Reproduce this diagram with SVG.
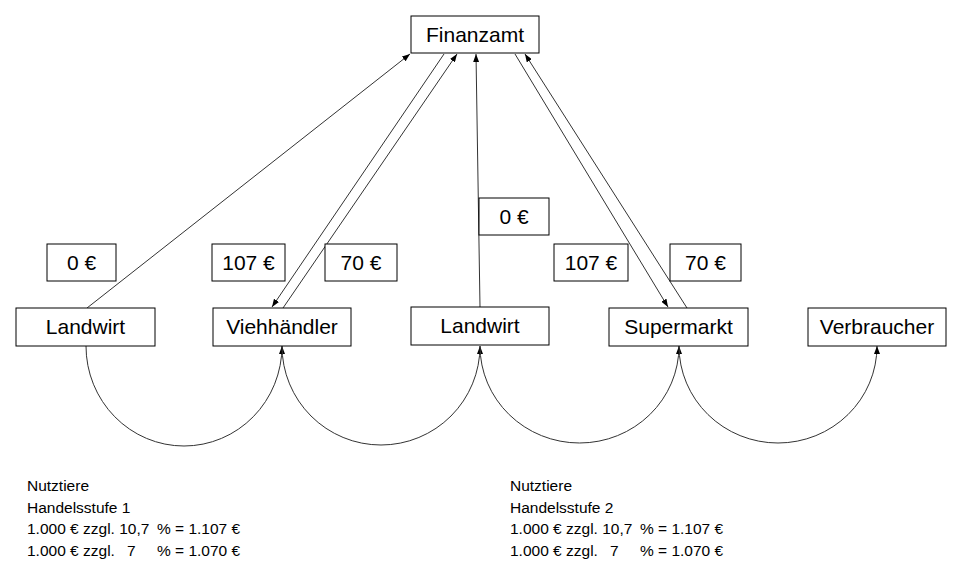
<svg xmlns="http://www.w3.org/2000/svg" width="957" height="575" viewBox="0 0 957 575">
  <style>
    .box { fill: #ffffff; stroke: #000000; stroke-width: 1; }
    .lbl { font-family: "Liberation Sans", Arial, sans-serif; font-size: 21px; fill: #000000; text-anchor: middle; }
    .note { font-family: "Liberation Sans", Arial, sans-serif; font-size: 15.5px; fill: #000000; }
    .con { fill: none; stroke: #333333; stroke-width: 1; }
  </style>
  <defs>
    <marker id="head" markerWidth="8" markerHeight="6" refX="8" refY="3" orient="auto" markerUnits="userSpaceOnUse">
      <path d="M0,0 L8,3 L0,6 Z" fill="#000000"/>
    </marker>
  </defs>

  <rect width="957" height="575" fill="#ffffff"/>

  <!-- connectors -->
  <g id="connectors">
    <!-- tax flows to and from the tax office -->
    <line class="con" x1="87" y1="308" x2="410" y2="54" marker-end="url(#head)"/>
    <line class="con" x1="444" y1="54" x2="272" y2="307" marker-end="url(#head)"/>
    <line class="con" x1="283" y1="308" x2="457" y2="54" marker-end="url(#head)"/>
    <line class="con" x1="480" y1="307" x2="476" y2="54" marker-end="url(#head)"/>
    <line class="con" x1="515" y1="54" x2="668" y2="307" marker-end="url(#head)"/>
    <line class="con" x1="687" y1="308" x2="525" y2="54" marker-end="url(#head)"/>
    <!-- goods chain along the bottom -->
    <path class="con" d="M86,346 A98,100 0 0 0 282,346" marker-end="url(#head)"/>
    <path class="con" d="M282,346 A99,99 0 0 0 480,346" marker-end="url(#head)"/>
    <path class="con" d="M480,346 A99.5,97 0 0 0 679,346" marker-end="url(#head)"/>
    <path class="con" d="M679,346 A99,97 0 0 0 877,346" marker-end="url(#head)"/>
  </g>

  <!-- nodes -->
  <g id="finanzamt">
    <rect class="box" x="411" y="16" width="128" height="37"/>
    <text class="lbl" x="475" y="42">Finanzamt</text>
  </g>
  <g id="landwirt1">
    <rect class="box" x="16" y="308" width="139" height="38"/>
    <text class="lbl" x="85.5" y="334">Landwirt</text>
  </g>
  <g id="viehhaendler">
    <rect class="box" x="213" y="308" width="138" height="38"/>
    <text class="lbl" x="282" y="334">Viehhändler</text>
  </g>
  <g id="landwirt2">
    <rect class="box" x="411" y="307" width="138" height="38"/>
    <text class="lbl" x="480" y="333">Landwirt</text>
  </g>
  <g id="supermarkt">
    <rect class="box" x="609" y="308" width="139" height="38"/>
    <text class="lbl" x="678.5" y="334">Supermarkt</text>
  </g>
  <g id="verbraucher">
    <rect class="box" x="808" y="308" width="138" height="38"/>
    <text class="lbl" x="877" y="334">Verbraucher</text>
  </g>

  <!-- amount labels -->
  <g id="betrag-landwirt1">
    <rect class="box" x="47" y="244" width="69" height="37"/>
    <text class="lbl" x="81.5" y="270">0 €</text>
  </g>
  <g id="betrag-vieh-107">
    <rect class="box" x="212" y="244" width="73" height="37"/>
    <text class="lbl" x="248.5" y="270">107 €</text>
  </g>
  <g id="betrag-vieh-70">
    <rect class="box" x="325" y="244" width="72" height="37"/>
    <text class="lbl" x="361" y="270">70 €</text>
  </g>
  <g id="betrag-landwirt2">
    <rect class="box" x="479" y="198" width="70" height="37"/>
    <text class="lbl" x="514" y="224">0 €</text>
  </g>
  <g id="betrag-super-107">
    <rect class="box" x="554" y="244" width="74" height="37"/>
    <text class="lbl" x="591" y="270">107 €</text>
  </g>
  <g id="betrag-super-70">
    <rect class="box" x="670" y="244" width="71" height="37"/>
    <text class="lbl" x="705.5" y="270">70 €</text>
  </g>

  <!-- notes -->
  <g id="notiz-stufe1" class="note">
    <text x="27" y="491">Nutztiere</text>
    <text x="27" y="513">Handelsstufe 1</text>
    <text x="27" y="534">1.000 € zzgl. 10,7 <tspan x="157">% = 1.107 €</tspan></text>
    <text x="27" y="556">1.000 € zzgl. <tspan x="127">7</tspan><tspan x="157">% = 1.070 €</tspan></text>
  </g>
  <g id="notiz-stufe2" class="note">
    <text x="510" y="491">Nutztiere</text>
    <text x="510" y="513">Handelsstufe 2</text>
    <text x="510" y="534">1.000 € zzgl. 10,7 <tspan x="640">% = 1.107 €</tspan></text>
    <text x="510" y="556">1.000 € zzgl. <tspan x="610">7</tspan><tspan x="640">% = 1.070 €</tspan></text>
  </g>
</svg>
